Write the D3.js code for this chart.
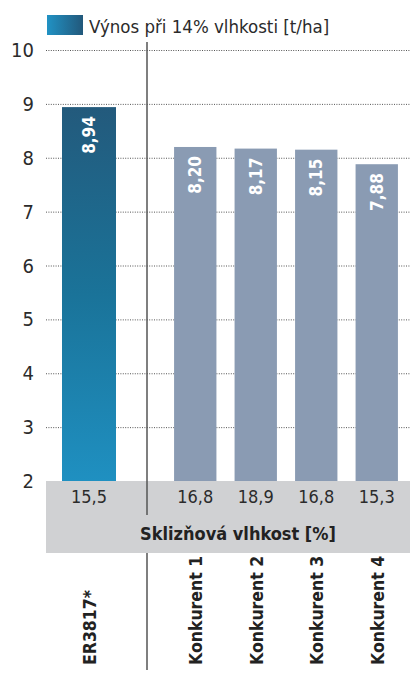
<!DOCTYPE html>
<html>
<head>
	<meta charset="UTF-8">
	<title>Výnos při 14% vlhkosti</title>
	<script src="https://cdn.jsdelivr.net/npm/d3@7"></script>
	<style>
		body { margin: 0; background: #fff; }
		svg { display: block; }
		.chart text { font-family: "DejaVu Sans Condensed", "Liberation Sans Narrow", sans-serif; }
		.grid line { stroke: #555; stroke-width: 1px; stroke-dasharray: 1, 1.4; }
		.tick-label { font-size: 20px; fill: #2b2b2b; }
		.value { font-size: 17px; font-weight: bold; fill: #fff; }
		.moist { font-size: 18px; fill: #2b2b2b; }
		.cat { font-size: 17.5px; font-weight: bold; fill: #222; }
		.divider { stroke: #555; stroke-width: 1.5px; }
	</style>
</head>
<body>
	<svg class="chart" width="410" height="673" xmlns="http://www.w3.org/2000/svg">
		<defs>
			<linearGradient id="legend-grad" x1="0" x2="1" y1="0" y2="0">
				<stop offset="0" stop-color="#2192c4"></stop>
				<stop offset="1" stop-color="#22587b"></stop>
			</linearGradient>
			<linearGradient id="bar-grad" x1="0" x2="0" y1="0" y2="1">
				<stop offset="0" stop-color="#235a7c"></stop>
				<stop offset="0.5" stop-color="#1a7399"></stop>
				<stop offset="1" stop-color="#1f90c1"></stop>
			</linearGradient>
		</defs>
		<g class="grid"></g>
		<g class="bars"></g>
		<g class="labels"></g>
	</svg>

	<script>
		// data
		const ownName = ["ER3817*"];
		const ownYield = [8.94];
		const ownMoisture = ["15,5"];

		const rivals = ["Konkurent 1", "Konkurent 2", "Konkurent 3", "Konkurent 4"];
		const rivalYield = [8.20, 8.17, 8.15, 7.88];
		const rivalMoisture = ["16,8", "18,9", "16,8", "15,3"];

		const yTicks = [2, 3, 4, 5, 6, 7, 8, 9, 10];
		const legendText = "Výnos při 14% vlhkosti [t/ha]";
		const moistureTitle = "Sklizňová vlhkost [%]";

		const fmt = v => v.toFixed(2).replace('.', ',');

		const svg = d3.select('.chart');

		const y = d3.scaleLinear().domain([2, 10]).range([481, 50]);

		const xOwn = d3.scaleBand().domain(ownName).range([62, 116]).padding(0);
		const xRival = d3.scaleBand().domain(rivals).range([165, 407])
			.paddingInner(0.3).paddingOuter(0.15);

		// legend
		svg.append('rect')
			.attr('x', 47).attr('y', 15).attr('width', 36).attr('height', 20)
			.attr('fill', 'url(#legend-grad)');
		svg.append('text')
			.attr('x', 89).attr('y', 33)
			.style('font-size', '18.5px').style('fill', '#2b2b2b')
			.text(legendText);

		// grid + y labels
		const grid = svg.select('.grid');
		grid.selectAll('line').data(yTicks.filter(d => d > 2)).enter().append('line')
			.attr('x1', 46).attr('x2', 410)
			.attr('y1', d => y(d) + 0.5).attr('y2', d => y(d) + 0.5);
		svg.select('.labels').selectAll('.tick-label').data(yTicks).enter().append('text')
			.attr('class', 'tick-label')
			.attr('x', 34).attr('y', d => y(d) + 7)
			.attr('text-anchor', 'end')
			.text(d => d);

		// gray moisture band
		svg.select('.bars').append('rect')
			.attr('x', 46).attr('y', 481).attr('width', 364).attr('height', 72)
			.attr('fill', '#d0d1d3');

		// bars
		const bars = svg.select('.bars');
		bars.selectAll('.own').data(ownYield).enter().append('rect')
			.attr('class', 'own')
			.attr('x', (d, i) => xOwn(ownName[i]))
			.attr('width', xOwn.bandwidth())
			.attr('y', d => y(d))
			.attr('height', d => y(2) - y(d))
			.attr('fill', 'url(#bar-grad)');
		bars.selectAll('.rival').data(rivalYield).enter().append('rect')
			.attr('class', 'rival')
			.attr('x', (d, i) => xRival(rivals[i]))
			.attr('width', xRival.bandwidth())
			.attr('y', d => y(d))
			.attr('height', d => y(2) - y(d))
			.attr('fill', '#8a9bb3');

		// divider
		svg.append('line').attr('class', 'divider')
			.attr('x1', 147).attr('x2', 147).attr('y1', 42).attr('y2', 515);
		svg.append('line').attr('class', 'divider')
			.attr('x1', 147).attr('x2', 147).attr('y1', 553).attr('y2', 670);

		const labels = svg.select('.labels');
		const all = ownName.map((n, i) => ({ name: n, v: ownYield[i], m: ownMoisture[i], cx: xOwn(n) + xOwn.bandwidth() / 2 }))
			.concat(rivals.map((n, i) => ({ name: n, v: rivalYield[i], m: rivalMoisture[i], cx: xRival(n) + xRival.bandwidth() / 2 })));

		// value labels inside bars
		labels.selectAll('.value').data(all).enter().append('text')
			.attr('class', 'value')
			.attr('text-anchor', 'end')
			.attr('transform', d => `translate(${d.cx + 6},${y(d.v) + 9}) rotate(-90)`)
			.text(d => fmt(d.v));

		// moisture values
		labels.selectAll('.moist').data(all).enter().append('text')
			.attr('class', 'moist')
			.attr('x', d => d.cx).attr('y', 503)
			.attr('text-anchor', 'middle')
			.text(d => d.m);
		labels.append('text')
			.attr('x', 238).attr('y', 540)
			.attr('text-anchor', 'middle')
			.style('font-size', '18px').style('font-weight', 'bold').style('fill', '#222')
			.text(moistureTitle);

		// category labels
		labels.selectAll('.cat').data(all).enter().append('text')
			.attr('class', 'cat')
			.attr('transform', d => `translate(${d.cx + 7},665) rotate(-90)`)
			.text(d => d.name);
	</script>
</body>
</html>
